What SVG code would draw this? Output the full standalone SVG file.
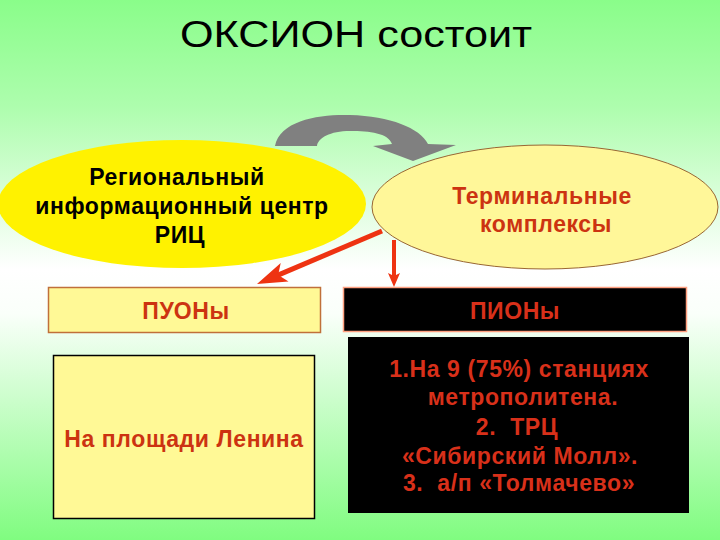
<svg xmlns="http://www.w3.org/2000/svg" width="720" height="540" viewBox="0 0 720 540">
<defs>
<linearGradient id="bg" x1="0" y1="0" x2="0" y2="1">
<stop offset="0" stop-color="#8afd8a"/>
<stop offset="0.2" stop-color="#aefdae"/>
<stop offset="0.5" stop-color="#ffffff"/>
<stop offset="0.58" stop-color="#fafffa"/>
<stop offset="1" stop-color="#80fc80"/>
</linearGradient>
<marker id="head1" markerUnits="userSpaceOnUse" markerWidth="30" markerHeight="22" viewBox="0 0 30 22" refX="20" refY="11" orient="auto">
<path d="M0,1 L30,11 L0,21 L7,11 z" fill="#ee3311"/>
</marker>
<marker id="head2" markerUnits="userSpaceOnUse" markerWidth="14" markerHeight="12" viewBox="0 0 14 12" refX="8" refY="6" orient="auto">
<path d="M0,0 L14,6 L0,12 L3,6 z" fill="#ee3311"/>
</marker>
<style>
.t{font-family:"Liberation Sans",Arial,sans-serif;font-weight:bold;font-size:23px;letter-spacing:0.6px;text-anchor:middle}
.blk{fill:#000000}
.red{fill:#cc3311}
.red2{fill:#d8301a}
.box{fill:#fff996}
.conn{stroke:#ee3311;fill:none}
</style>
</defs>
<rect width="720" height="540" fill="url(#bg)"/>
<text x="356" y="47" font-family="'Liberation Sans',Arial,sans-serif" font-size="36" text-anchor="middle" fill="#000" textLength="352" lengthAdjust="spacingAndGlyphs">ОКСИОН состоит</text>

<g id="cycle-arrow">
<path d="M275,146 C280,120 320,114 350,115 C390,116 420,128 428,144 L456,145 L413,161 L373,146 L392,144 C388,133 370,131 350,131 C330,131 318,138 317,146 Z" fill="#808080"/>
</g>

<g id="ric">
<ellipse cx="182" cy="204" rx="184" ry="64" fill="#fff200"/>
<text class="t blk" x="177" y="185">Региональный</text>
<text class="t blk" x="182" y="214">информационный центр</text>
<text class="t blk" x="180" y="243">РИЦ</text>
</g>

<g id="terminals">
<ellipse cx="545" cy="207" rx="173" ry="62" fill="#fff799" stroke="#996633" stroke-width="1"/>
<text class="t red" x="542" y="204">Терминальные</text>
<text class="t red" x="546" y="232">комплексы</text>
</g>

<g id="connectors">
<line class="conn" x1="382" y1="231" x2="266.2" y2="280.1" stroke-width="5" marker-end="url(#head1)"/>
<line class="conn" x1="394" y1="240" x2="394" y2="281" stroke-width="4" marker-end="url(#head2)"/>
</g>

<g id="puon">
<rect class="box" x="48.5" y="287.5" width="272" height="45" stroke="#c0703a" stroke-width="1.5"/>
<text class="t red" x="186" y="319">ПУОНы</text>
</g>

<g id="pion">
<rect x="343.5" y="287.5" width="343" height="44" fill="#000" stroke="#ffa080" stroke-width="1.5"/>
<text class="t red2" x="515" y="319">ПИОНы</text>
</g>

<g id="puon-list">
<rect class="box" x="53.5" y="355.5" width="261" height="163" stroke="#000" stroke-width="1.5"/>
<text class="t red" x="184" y="447">На площади Ленина</text>
</g>

<g id="pion-list">
<rect x="348" y="337" width="341" height="176" fill="#000"/>
<text class="t red2" x="519" y="377">1.На 9 (75%) станциях</text>
<text class="t red2" x="523" y="405">метрополитена.</text>
<text class="t red2" x="517" y="435" xml:space="preserve">2.  ТРЦ</text>
<text class="t red2" x="520" y="464">«Сибирский Молл».</text>
<text class="t red2" x="519" y="491" xml:space="preserve">3.  а/п «Толмачево»</text>
</g>
</svg>
